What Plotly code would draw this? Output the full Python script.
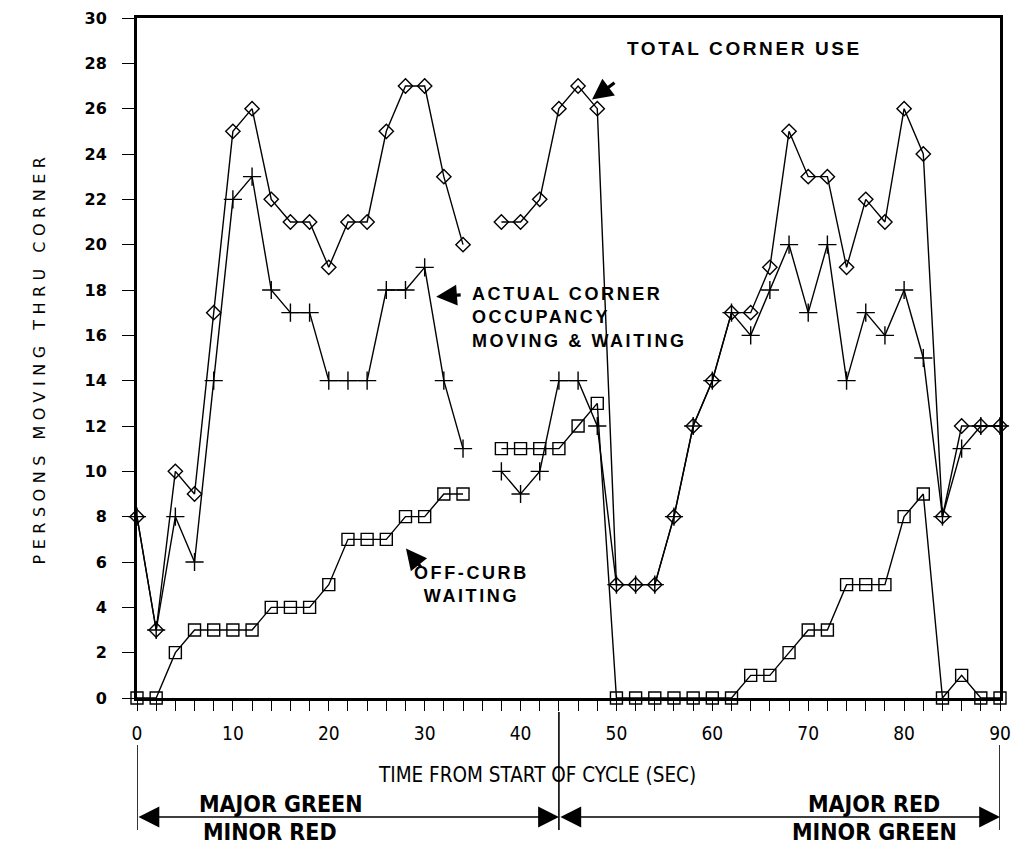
import plotly.graph_objects as go

# ---- data (every 2 s; None = no observation) ----
time_s = list(range(0, 92, 2))
total_corner_use = [8, 3, 10, 9, 17, 25, 26, 22, 21, 21, 19, 21, 21, 25, 27, 27, 23, 20,
                    None, 21, 21, 22, 26, 27, 26, 5, 5, 5, 8, 12, 14, 17, 17, 19, 25, 23,
                    23, 19, 22, 21, 26, 24, 8, 12, 12, 12]
actual_occupancy = [8, 3, 8, 6, 14, 22, 23, 18, 17, 17, 14, 14, 14, 18, 18, 19, 14, 11,
                    None, 10, 9, 10, 14, 14, 12, 5, 5, 5, 8, 12, 14, 17, 16, 18, 20, 17,
                    20, 14, 17, 16, 18, 15, 8, 11, 12, 12]
off_curb_waiting = [0, 0, 2, 3, 3, 3, 3, 4, 4, 4, 5, 7, 7, 7, 8, 8, 9, 9,
                    None, 11, 11, 11, 11, 12, 13, 0, 0, 0, 0, 0, 0, 0, 1, 1, 2, 3,
                    3, 5, 5, 5, 8, 9, 0, 1, 0, 0]

x_tick_vals = [0, 10, 20, 30, 40, 50, 60, 70, 80, 90]
y_tick_vals = list(range(0, 31, 2))
phase_change = 44
cycle_end = 90

# ---- geometry helpers (layout only) ----
PLOT_TOP, PLOT_BOTTOM = 18, 698
def yp(py):
    return (PLOT_BOTTOM - py) / (PLOT_BOTTOM - PLOT_TOP)

BOLD = "Liberation Sans, Arial, sans-serif"
WIDEBOLD = "DejaVu Sans, sans-serif"
NARROW = "Liberation Sans Narrow, DejaVu Sans Condensed, Arial Narrow, sans-serif"

fig = go.Figure()
line_style = dict(color="black", width=1.4)
fig.add_trace(go.Scatter(x=time_s, y=off_curb_waiting, mode="lines+markers",
                         line=line_style, cliponaxis=False, name="Off-curb waiting",
                         marker=dict(symbol="square-open", size=12, color="black",
                                     line=dict(width=1.4, color="black"))))
fig.add_trace(go.Scatter(x=time_s, y=actual_occupancy, mode="lines+markers",
                         line=line_style, cliponaxis=False, name="Actual occupancy",
                         marker=dict(symbol="cross-thin", size=13, color="black",
                                     line=dict(width=1.4, color="black"))))
fig.add_trace(go.Scatter(x=time_s, y=total_corner_use, mode="lines+markers",
                         line=line_style, cliponaxis=False, name="Total corner use",
                         marker=dict(symbol="diamond-open", size=11, color="black",
                                     line=dict(width=1.4, color="black"))))

def ls(text, sp):
    return f'<span style="letter-spacing:{sp}px">{text}</span>'

ann = []
# text labels inside plot
ann.append(dict(x=50.9, y=28.67, xref="x", yref="y", xanchor="left", yanchor="middle",
                text=ls("TOTAL CORNER USE", 2.6), showarrow=False,
                font=dict(family=BOLD, size=19, color="black", weight="bold")))
ann.append(dict(x=34.7, y=16.8, xref="x", yref="y", xanchor="left", yanchor="middle",
                align="left", showarrow=False,
                text=ls("ACTUAL CORNER", 2.6) + "<br>" + ls("OCCUPANCY", 2.6) + "<br>" + ls("MOVING &amp; WAITING", 2.6),
                font=dict(family=BOLD, size=18, color="black", weight="bold")))
ann.append(dict(x=34.9, y=5.0, xref="x", yref="y", xanchor="center", yanchor="middle",
                align="center", showarrow=False,
                text=ls("OFF-CURB", 2.6) + "<br>" + ls("WAITING", 2.6),
                font=dict(family=BOLD, size=18, color="black", weight="bold")))
# pointer arrows
arrow_common = dict(text="", showarrow=True, arrowhead=2, arrowsize=1.3, arrowwidth=3.2,
                    arrowcolor="black", standoff=0, xref="x", yref="y")
ann.append(dict(x=47.45, y=26.4, ax=24, ay=-18, **arrow_common))
ann.append(dict(x=31.2, y=17.7, ax=26, ay=-2, **arrow_common))
ann.append(dict(x=28.05, y=6.6, ax=16, ay=20, **arrow_common))

# below-axis annotations
ann.append(dict(x=41.7, y=yp(775), xref="x", yref="paper", xanchor="center", yanchor="middle",
                text="TIME FROM START OF CYCLE (SEC)", showarrow=False,
                font=dict(family=NARROW, size=20.5, color="black")))
for txt, xc, py in [("MAJOR GREEN", 15.0, 804), ("MINOR RED", 13.9, 832),
                    ("MAJOR RED", 76.9, 804), ("MINOR GREEN", 76.9, 832)]:
    ann.append(dict(x=xc, y=yp(py), xref="x", yref="paper", xanchor="center", yanchor="middle",
                    text=txt, showarrow=False,
                    font=dict(family=NARROW, size=23, color="black", weight="bold")))
# phase arrows (double-headed)
for x0, x1 in [(0, phase_change), (phase_change, cycle_end)]:
    ann.append(dict(x=x1, y=yp(817), xref="x", yref="paper", ax=x0, ay=0,
                    axref="x", ayref="pixel", text="", showarrow=True,
                    arrowhead=2, startarrowhead=2, arrowside="end+start",
                    arrowsize=2.6, startarrowsize=2.6, arrowwidth=1.6,
                    arrowcolor="black", standoff=0, startstandoff=0))

shapes = []
for xv, top in [(0, 745), (phase_change, 712), (cycle_end, 745)]:
    shapes.append(dict(type="line", xref="x", yref="paper", x0=xv, x1=xv,
                       y0=yp(top), y1=yp(830), line=dict(color="black", width=1.6)))

fig.update_layout(
    width=1016, height=846,
    margin=dict(l=137, r=16, t=PLOT_TOP, b=846 - PLOT_BOTTOM, autoexpand=False),
    paper_bgcolor="white", plot_bgcolor="white",
    showlegend=False,
    annotations=ann, shapes=shapes,
    xaxis=dict(range=[0, 90], tickvals=x_tick_vals, ticktext=[str(v) for v in x_tick_vals],
               automargin=False,
               ticks="outside", ticklen=10, tickwidth=1.3, tickcolor="black",
               minor=dict(dtick=2, ticks="outside", ticklen=10, tickwidth=1.3, tickcolor="black"),
               showgrid=False, zeroline=False, showline=True, linecolor="black", linewidth=2.6,
               mirror=True, ticklabelstandoff=6,
               tickfont=dict(family=NARROW, size=19, color="black")),
    yaxis=dict(range=[0, 30], tickvals=y_tick_vals, ticks="outside", ticklen=12, tickwidth=1.3,
               automargin=False,
               tickcolor="black", showgrid=False, zeroline=False, showline=True,
               linecolor="black", linewidth=3, mirror=True, ticklabelstandoff=12,
               tickfont=dict(family=WIDEBOLD, size=16, color="black", weight="bold"),
               title=dict(text=ls("PERSONS MOVING THRU CORNER", 5.5), standoff=35,
                          font=dict(family="DejaVu Sans, sans-serif", size=16, color="black"))),
)

fig.write_html("out.html", config={"displayModeBar": False},
               post_script="document.body.style.margin='0';")
